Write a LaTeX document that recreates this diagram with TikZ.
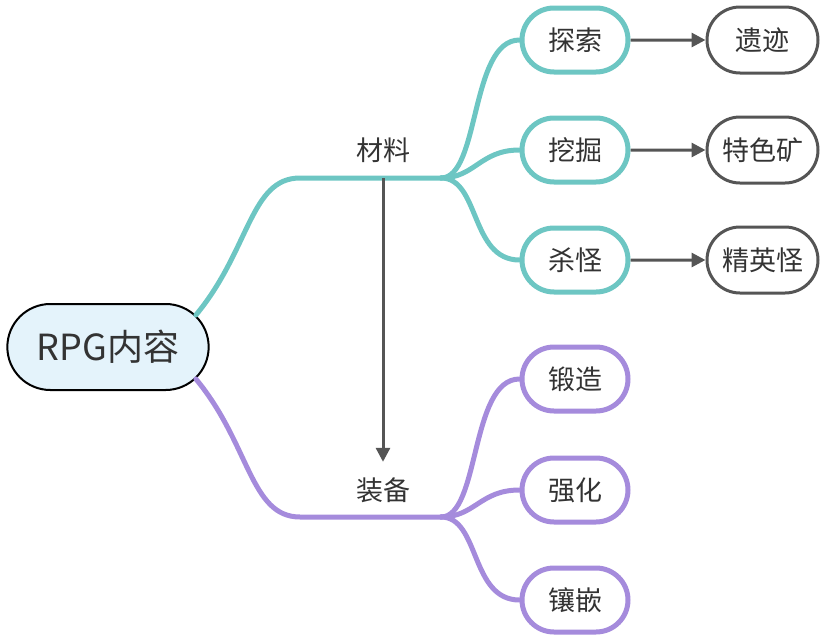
\documentclass[tikz,border=0pt]{standalone}
\usepackage{fontspec}
\setmainfont{Noto Sans CJK SC}
\usetikzlibrary{shapes.misc, arrows.meta, positioning}
\definecolor{tealline}{HTML}{6DC6C3}
\definecolor{purpline}{HTML}{A58BDC}
\definecolor{rootfill}{HTML}{E4F3FB}
\definecolor{darkline}{HTML}{555555}
\definecolor{inktext}{HTML}{333333}
\tikzset{
  root/.style = {rounded rectangle, draw=black, line width=2pt, fill=rootfill, text=inktext, minimum width=208pt, minimum height=86pt, font=\fontsize{36}{42}\selectfont},
  topic/.style = {text=inktext, inner sep=0pt, minimum width=60pt, minimum height=56pt, font=\fontsize{27}{32}\selectfont},
  leaf/.style = {rounded rectangle, fill=white, line width=5pt, text=inktext, minimum width=106pt, minimum height=64pt, inner sep=0pt, font=\fontsize{27}{32}\selectfont},
  tealleaf/.style = {leaf, draw=tealline},
  purpleaf/.style = {leaf, draw=purpline},
  endleaf/.style = {rounded rectangle, draw=darkline, line width=3pt, text=inktext, minimum width=111pt, minimum height=66pt, inner sep=0pt, font=\fontsize{27}{32}\selectfont},
  branch/.style = {line width=5pt, line cap=round},
  line/.style = {-{Triangle[length=14pt, width=14pt]}, darkline, line width=3pt}
}

\begin{document}
\begin{tikzpicture}[x=1pt, y=-1pt]
\useasboundingbox (0,0) rectangle (823,640);

% Root
\node[root] (rpg) at (108,347) {RPG内容};

% Two topics
\node[topic] (mat) at (383,150) {材料};
\node[topic] (equip) at (383,490) {装备};
\coordinate (matL) at (300,178);
\coordinate (matJ) at (441,178);
\coordinate (equipL) at (300,517);
\coordinate (equipJ) at (441,517);

% Leaves
\node[tealleaf] (explore) at (575,40) {探索};
\node[tealleaf] (dig) at (575,150) {挖掘};
\node[tealleaf] (kill) at (575,260) {杀怪};
\node[purpleaf] (forge) at (575,379) {锻造};
\node[purpleaf] (enhance) at (575,490) {强化};
\node[purpleaf] (inlay) at (575,600) {镶嵌};

\node[endleaf, right=75pt of explore] (relic) {遗迹};
\node[endleaf, right=75pt of dig] (ore) {特色矿};
\node[endleaf, right=75pt of kill] (elite) {精英怪};

% Branches
\draw[branch, tealline] (rpg.20) .. controls (250,250) and (250,178) .. (matL) -- (matJ);
\draw[branch, purpline] (rpg.-20) .. controls (250,444) and (250,517) .. (equipL) -- (equipJ);
\draw[branch, tealline] (matJ) .. controls (480,178) and (470,40) .. (explore.west);
\draw[branch, tealline] (matJ) .. controls (475,178) and (480,150) .. (dig.west);
\draw[branch, tealline] (matJ) .. controls (480,178) and (470,260) .. (kill.west);
\draw[branch, purpline] (equipJ) .. controls (480,517) and (470,379) .. (forge.west);
\draw[branch, purpline] (equipJ) .. controls (475,517) and (480,490) .. (enhance.west);
\draw[branch, purpline] (equipJ) .. controls (480,517) and (470,600) .. (inlay.west);

% Arrows
\draw[line] (mat.south) -- (equip.north);
\draw[line] (explore) -- (relic);
\draw[line] (dig) -- (ore);
\draw[line] (kill) -- (elite);

\end{tikzpicture}
\end{document}
